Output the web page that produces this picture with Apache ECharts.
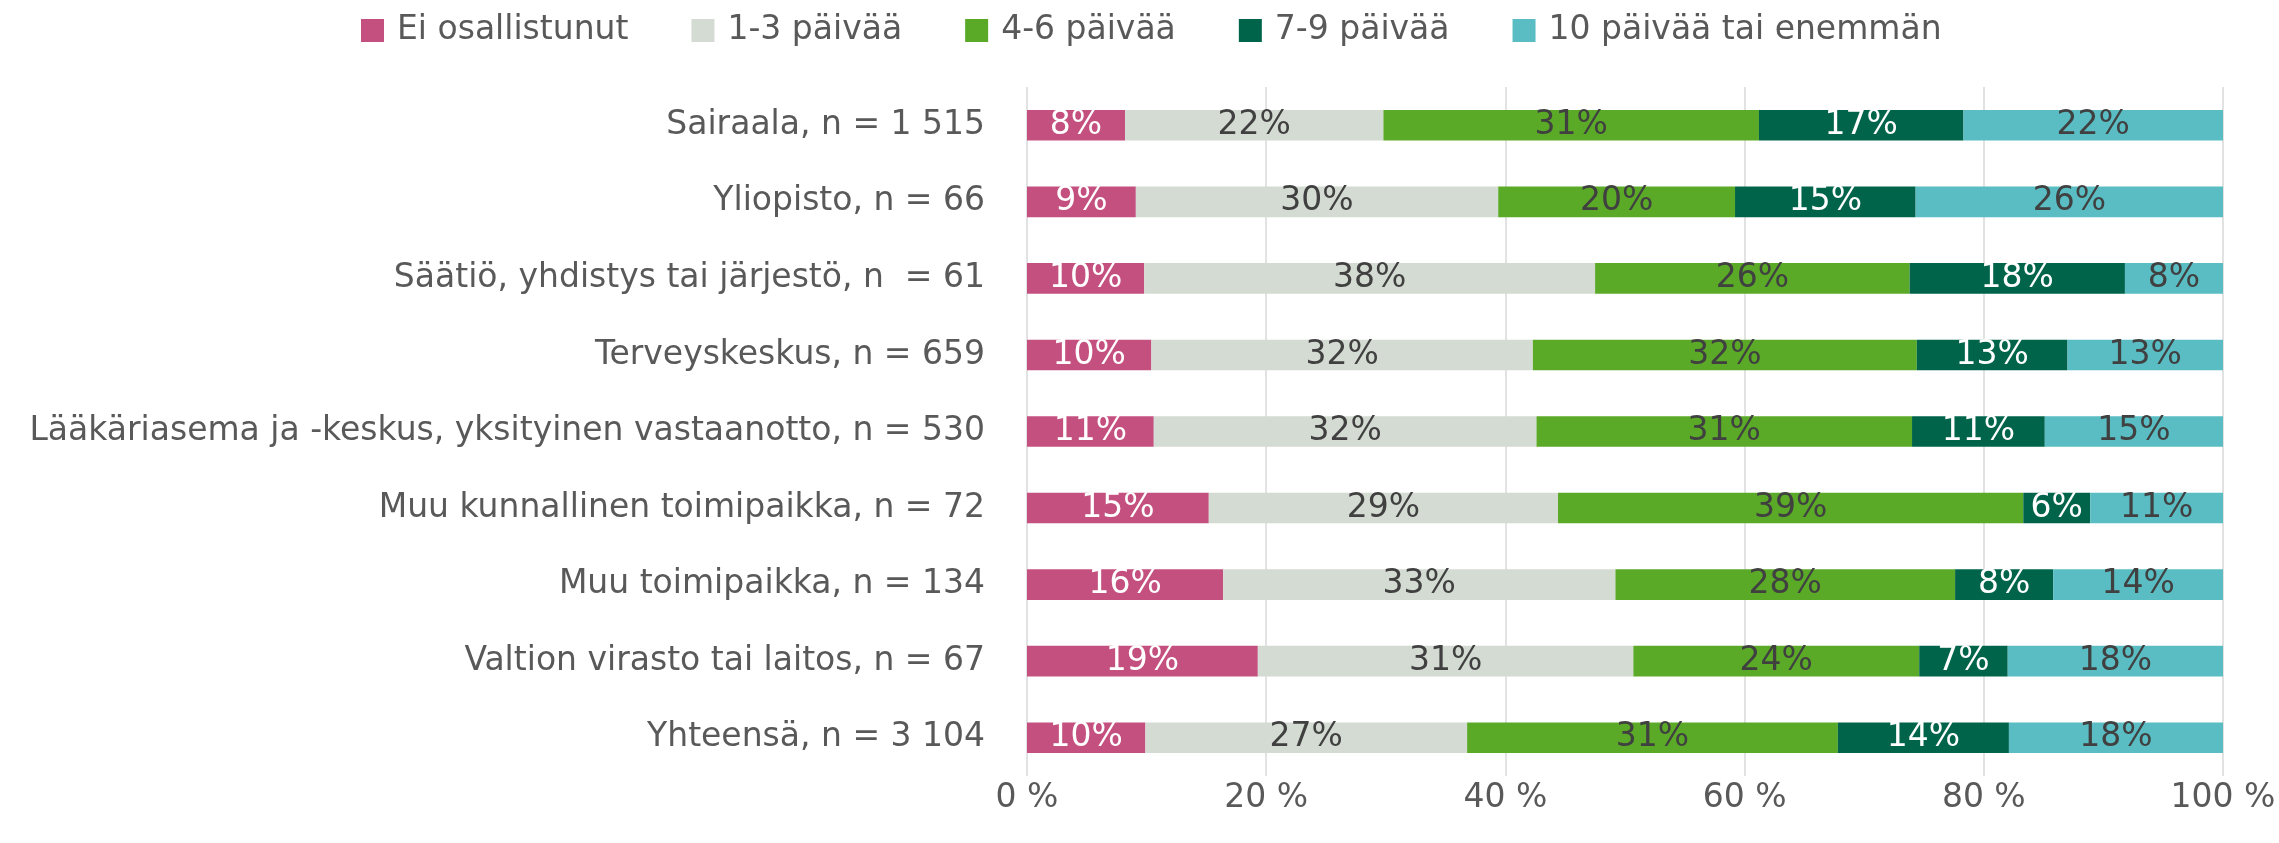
<!DOCTYPE html>
<html>
<head>
<meta charset="utf-8">
<script src="https://cdn.jsdelivr.net/npm/echarts@6/dist/echarts.min.js"></script>
<style>
  html, body { margin: 0; padding: 0; background: #fff; }
  #chart { width: 2279px; height: 843px; }
</style>
</head>
<body>
<div id="chart"></div>
<script>
const categories = [
  'Sairaala, n = 1 515',
  'Yliopisto, n = 66',
  'Säätiö, yhdistys tai järjestö, n  = 61',
  'Terveyskeskus, n = 659',
  'Lääkäriasema ja -keskus, yksityinen vastaanotto, n = 530',
  'Muu kunnallinen toimipaikka, n = 72',
  'Muu toimipaikka, n = 134',
  'Valtion virasto tai laitos, n = 67',
  'Yhteensä, n = 3 104'
]

const seriesNames = ['Ei osallistunut', '1-3 päivää', '4-6 päivää', '7-9 päivää', '10 päivää tai enemmän']

// shares in %
const eiOsallistunut = [8.2, 9.1, 9.8, 10.4, 10.6, 15.2, 16.4, 19.3, 9.9]
const paivaa1to3 = [21.6, 30.3, 37.7, 31.9, 32.0, 29.2, 32.8, 31.4, 26.9]
const paivaa4to6 = [31.4, 19.8, 26.3, 32.1, 31.4, 38.9, 28.4, 23.9, 31.0]
const paivaa7to9 = [17.1, 15.1, 18.0, 12.6, 11.1, 5.6, 8.2, 7.4, 14.3]
const paivaa10plus = [21.7, 25.8, 8.2, 13.0, 14.9, 11.1, 14.2, 18.0, 17.9]

const xTicks = [0, 20, 40, 60, 80, 100]

const colors = ['#C4507F', '#D4DBD2', '#5AAA28', '#00644A', '#59BDC3']
const labelColors = ['#ffffff', '#404040', '#404040', '#ffffff', '#404040']
const values = [eiOsallistunut, paivaa1to3, paivaa4to6, paivaa7to9, paivaa10plus]

const font = '"DejaVu Sans", sans-serif'
const fs = 33

const chart = echarts.init(document.getElementById('chart'))
chart.setOption({
  backgroundColor: '#ffffff',
  animation: false,
  textStyle: { fontFamily: font },
  legend: {
    top: 9,
    left: 356,
    itemWidth: 23,
    itemHeight: 23,
    itemGap: 63,
    icon: 'rect',
    formatter: name => '{t|' + name + '}',
    textStyle: {
      color: '#595959',
      fontSize: fs,
      fontFamily: font,
      rich: { t: { color: '#595959', fontSize: fs, fontFamily: font, padding: [0, 0, 0, 8] } }
    },
    data: seriesNames
  },
  grid: { left: 1027, right: 56, top: 87, bottom: 67, containLabel: false },
  xAxis: {
    type: 'value',
    min: xTicks[0],
    max: xTicks[xTicks.length - 1],
    interval: 20,
    axisLine: { show: false },
    axisTick: { show: false },
    splitLine: { lineStyle: { color: '#D9D9D9', width: 1.5 } },
    axisLabel: {
      color: '#595959',
      fontSize: fs,
      fontFamily: font,
      margin: 6,
      formatter: v => v + ' %'
    }
  },
  yAxis: {
    type: 'category',
    inverse: true,
    data: categories,
    axisLine: { show: false },
    axisTick: { show: false },
    axisLabel: { color: '#595959', fontSize: fs, fontFamily: font, margin: 42 }
  },
  series: seriesNames.map((name, i) => ({
    name,
    type: 'bar',
    stack: 'total',
    barWidth: '40%',
    itemStyle: { color: colors[i] },
    label: {
      show: true,
      position: 'inside',
      color: labelColors[i],
      fontSize: fs,
      fontFamily: font,
      formatter: p => Math.round(p.value) + '%'
    },
    data: values[i]
  }))
})
</script>
</body>
</html>
